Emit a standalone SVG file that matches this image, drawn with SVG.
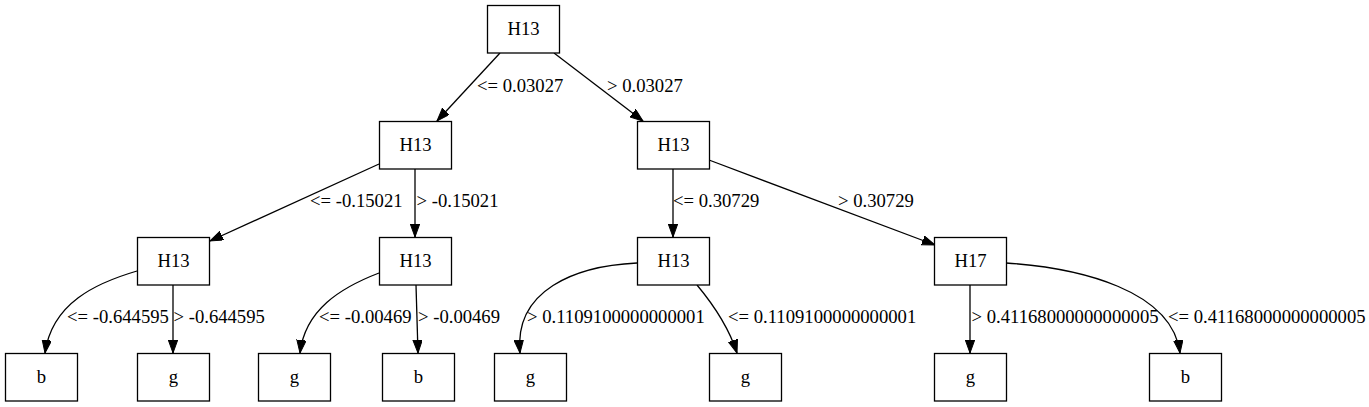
<svg xmlns="http://www.w3.org/2000/svg" width="1369" height="407" viewBox="0 0 1369 407">
<style>
.node rect{fill:#fff;stroke:#000;stroke-width:1.3}
.node text{font-family:"Liberation Serif","Times New Roman",serif;font-size:18.67px;text-anchor:middle;fill:#000}
.edges path{fill:none;stroke:#000;stroke-width:1.3;marker-end:url(#ah)}
.lbl{font-family:"Liberation Serif","Times New Roman",serif;font-size:18.67px;fill:#000}
</style>
<defs>
<marker id="ah" markerUnits="userSpaceOnUse" markerWidth="14" markerHeight="10" refX="13" refY="4.7" orient="auto">
<path d="M0,0 L13,4.7 L0,9.4 z" fill="#000" stroke="#000" stroke-width="1"/>
</marker>
</defs>
<rect width="1369" height="407" fill="#fff"/>
<g class="edges">
<path d="M500,53 L437,121"/>
<path d="M554,53 L643,121"/>
<path d="M379,164 L210,241"/>
<path d="M415,169 L415,237"/>
<path d="M673,169 L673,237"/>
<path d="M709,160 L935,245"/>
<path d="M137,271 C96,283 52,303 45,353"/>
<path d="M173,285 L173,353"/>
<path d="M379,273 C340,288 305,310 300,353"/>
<path d="M416,285 L418,353"/>
<path d="M637,263 C575,266 514,290 520,353"/>
<path d="M697,285 C712,303 728,325 737,353"/>
<path d="M970,285 L970,353"/>
<path d="M1006,263 C1080,268 1172,290 1180,353"/>
<text class="lbl" x="477" y="92">&lt;= 0.03027</text>
<text class="lbl" x="607" y="92">&gt; 0.03027</text>
<text class="lbl" x="310" y="207">&lt;= -0.15021</text>
<text class="lbl" x="416.5" y="207">&gt; -0.15021</text>
<text class="lbl" x="673" y="207">&lt;= 0.30729</text>
<text class="lbl" x="838" y="207">&gt; 0.30729</text>
<text class="lbl" x="67" y="323">&lt;= -0.644595</text>
<text class="lbl" x="173.5" y="323">&gt; -0.644595</text>
<text class="lbl" x="319" y="323">&lt;= -0.00469</text>
<text class="lbl" x="418" y="323">&gt; -0.00469</text>
<text class="lbl" x="527" y="323">&gt; 0.1109100000000001</text>
<text class="lbl" x="728" y="323">&lt;= 0.1109100000000001</text>
<text class="lbl" x="971.5" y="323">&gt; 0.41168000000000005</text>
<text class="lbl" x="1168" y="323">&lt;= 0.41168000000000005</text>
</g>
<g id="n0" class="node"><rect x="487.5" y="5.5" width="72" height="47.5"/><text x="523.5" y="34.5">H13</text></g>
<g id="n1" class="node"><rect x="379.5" y="121.5" width="72" height="47.5"/><text x="415.5" y="150.5">H13</text></g>
<g id="n2" class="node"><rect x="637.5" y="121.5" width="72" height="47.5"/><text x="673.5" y="150.5">H13</text></g>
<g id="n3" class="node"><rect x="137.5" y="237.5" width="72" height="47.5"/><text x="173.5" y="266.5">H13</text></g>
<g id="n4" class="node"><rect x="379.5" y="237.5" width="72" height="47.5"/><text x="415.5" y="266.5">H13</text></g>
<g id="n5" class="node"><rect x="637.5" y="237.5" width="72" height="47.5"/><text x="673.5" y="266.5">H13</text></g>
<g id="n6" class="node"><rect x="934.5" y="237.5" width="72" height="47.5"/><text x="970.5" y="266.5">H17</text></g>
<g id="n7" class="node"><rect x="5.5" y="353.5" width="72" height="47.5"/><text x="41.5" y="382.5">b</text></g>
<g id="n8" class="node"><rect x="137.5" y="353.5" width="72" height="47.5"/><text x="173.5" y="382.5">g</text></g>
<g id="n9" class="node"><rect x="258.5" y="353.5" width="72" height="47.5"/><text x="294.5" y="382.5">g</text></g>
<g id="n10" class="node"><rect x="382.5" y="353.5" width="72" height="47.5"/><text x="418.5" y="382.5">b</text></g>
<g id="n11" class="node"><rect x="494.5" y="353.5" width="72" height="47.5"/><text x="530.5" y="382.5">g</text></g>
<g id="n12" class="node"><rect x="709.5" y="353.5" width="72" height="47.5"/><text x="745.5" y="382.5">g</text></g>
<g id="n13" class="node"><rect x="934.5" y="353.5" width="72" height="47.5"/><text x="970.5" y="382.5">g</text></g>
<g id="n14" class="node"><rect x="1149.5" y="353.5" width="72" height="47.5"/><text x="1185.5" y="382.5">b</text></g>
</svg>
